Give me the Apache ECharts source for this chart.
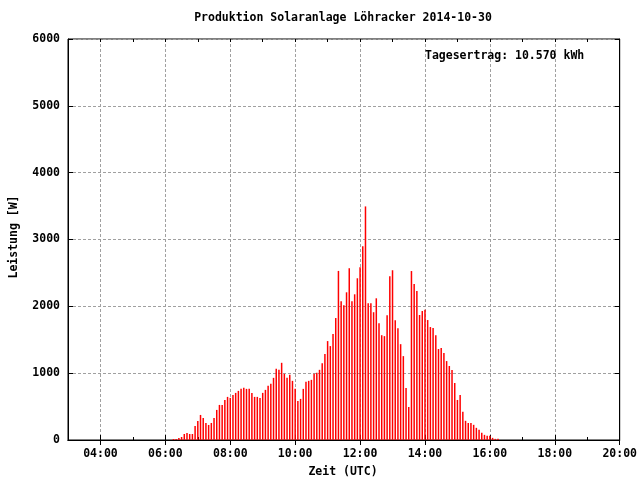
<!DOCTYPE html>
<html>
<head>
<meta charset="utf-8">
<script src="https://cdn.jsdelivr.net/npm/echarts@6/dist/echarts.min.js"></script>
<style>html,body{margin:0;padding:0;background:#fff;}#c{width:640px;height:480px;}</style>
</head>
<body>
<div id="c"></div>
<script>
const titleText = "Produktion Solaranlage Löhracker 2014-10-30";
const noteText = "Tagesertrag: 10.570 kWh";
const xName = "Zeit (UTC)";
const yName = "Leistung [W]";

const times = [
"06:15","06:20","06:25","06:30","06:35","06:40","06:45","06:50","06:55",
"07:00","07:05","07:10","07:15","07:20","07:25","07:30","07:35","07:40","07:45","07:50","07:55",
"08:00","08:05","08:10","08:15","08:20","08:25","08:30","08:35","08:40","08:45","08:50","08:55",
"09:00","09:05","09:10","09:15","09:20","09:25","09:30","09:35","09:40","09:45","09:50","09:55",
"10:00","10:05","10:10","10:15","10:20","10:25","10:30","10:35","10:40","10:45","10:50","10:55",
"11:00","11:05","11:10","11:15","11:20","11:25","11:30","11:35","11:40","11:45","11:50","11:55",
"12:00","12:05","12:10","12:15","12:20","12:25","12:30","12:35","12:40","12:45","12:50","12:55",
"13:00","13:05","13:10","13:15","13:20","13:25","13:30","13:35","13:40","13:45","13:50","13:55",
"14:00","14:05","14:10","14:15","14:20","14:25","14:30","14:35","14:40","14:45","14:50","14:55",
"15:00","15:05","15:10","15:15","15:20","15:25","15:30","15:35","15:40","15:45","15:50","15:55",
"16:00","16:05","16:10","16:15"
];

const power = [
15,15,30,45,90,105,90,90,210,
285,375,330,255,225,255,330,450,525,525,600,645,
630,675,705,735,765,780,765,765,705,645,645,630,
705,750,810,840,930,1065,1050,1155,990,930,975,885,
765,585,615,765,870,885,900,990,1005,1050,1150,1285,
1480,1405,1585,1825,2530,2077,2017,2210,2570,2077,2180,2420,
2585,2898,3495,2047,2047,1912,2120,1748,1568,1554,1868,2450,
2540,1793,1673,1434,1255,777,493,2528,2333,2228,1870,1930,
1950,1795,1690,1675,1569,1361,1375,1300,1181,1107,1047,853,
599,675,421,287,256,256,227,182,152,107,77,62,
62,32,17,17
];

const xMinTime = "03:00";
const xMaxTime = "20:00";
const xTickLabels = ["04:00","06:00","08:00","10:00","12:00","14:00","16:00","18:00","20:00"];
const yMin = 0, yMax = 6000, yStep = 1000;

function toMin(t){ const p = t.split(":"); return (+p[0])*60 + (+p[1]); }
function fmt(v){ const h = Math.floor(v/60), m = Math.round(v%60); return (h<10?"0":"")+h+":"+(m<10?"0":"")+m; }

const FONT = "'DejaVu Sans Mono', monospace";
const txt = {fontFamily: FONT, fontWeight: 'bold', fontSize: 11.5, color: '#000'};
const grid = {left: 68, right: 20, top: 39, bottom: 40};
const gridLine = {show: true, lineStyle: {color: '#a0a0a0', type: [3, 2], width: 1}};

const data = times.map((t, i) => [toMin(t), power[i]]);
const xmin = toMin(xMinTime), xmax = toMin(xMaxTime);
const majorX = xTickLabels.map(toMin);

function minorAxis(pos){
  return {type: 'value', min: xmin, max: xmax, interval: 60, position: pos,
    axisLine: {show: false},
    axisTick: {show: true, inside: true, length: 3, lineStyle: {color: '#000'}},
    axisLabel: {show: false}, splitLine: {show: false}};
}

const chart = echarts.init(document.getElementById('c'), null, {renderer: 'canvas'});
chart.setOption({
  animation: false,
  backgroundColor: '#fff',
  grid: Object.assign({show: true, borderColor: '#000', borderWidth: 1, backgroundColor: 'transparent'}, grid),
  graphic: [
    {type: 'text', x: 343, y: 18, style: {text: titleText, font: "bold 11.5px 'DejaVu Sans Mono'", fill: '#000', textAlign: 'center', textVerticalAlign: 'middle'}},
    {type: 'text', x: 425, y: 56, z: 100, style: {text: noteText, font: "bold 11.5px 'DejaVu Sans Mono'", fill: '#000', textAlign: 'left', textVerticalAlign: 'middle'}},
    {type: 'text', x: 343, y: 472, style: {text: xName, font: "bold 11.5px 'DejaVu Sans Mono'", fill: '#000', textAlign: 'center', textVerticalAlign: 'middle'}},
    {type: 'text', x: 14, y: 237, rotation: Math.PI/2, style: {text: yName, font: "bold 11.5px 'DejaVu Sans Mono'", fill: '#000', textAlign: 'center', textVerticalAlign: 'middle'}}
  ],
  xAxis: [
    {type: 'value', min: xmin, max: xmax, interval: 60, position: 'bottom',
     axisLine: {show: true, onZero: false, lineStyle: {color: '#000', width: 1}},
     axisTick: {show: true, inside: true, length: 5, customValues: majorX, lineStyle: {color: '#000'}},
     axisLabel: Object.assign({margin: 8, customValues: majorX, formatter: v => fmt(v)}, txt),
     splitLine: gridLine},
    {type: 'value', min: xmin, max: xmax, interval: 60, position: 'top',
     axisLine: {show: true, lineStyle: {color: '#000'}},
     axisTick: {show: true, inside: true, length: 5, customValues: majorX, lineStyle: {color: '#000'}},
     axisLabel: {show: false, customValues: majorX}, splitLine: {show: false}},
    minorAxis('bottom'),
    minorAxis('top')
  ],
  yAxis: [
    {type: 'value', min: yMin, max: yMax, interval: yStep, position: 'left',
     axisLine: {show: true, lineStyle: {color: '#000'}},
     axisTick: {show: true, inside: true, length: 5, lineStyle: {color: '#000'}},
     axisLabel: Object.assign({margin: 8, formatter: v => String(v)}, txt),
     splitLine: gridLine},
    {type: 'value', min: yMin, max: yMax, interval: yStep, position: 'right',
     axisLine: {show: true, lineStyle: {color: '#000'}},
     axisTick: {show: true, inside: true, length: 5, lineStyle: {color: '#000'}},
     axisLabel: {show: false}, splitLine: {show: false}}
  ],
  series: [{
    type: 'bar', xAxisIndex: 0, yAxisIndex: 0, data: data, barWidth: 1.5,
    itemStyle: {color: '#ff0000'}, z: 5
  }]
});
</script>
</body>
</html>
